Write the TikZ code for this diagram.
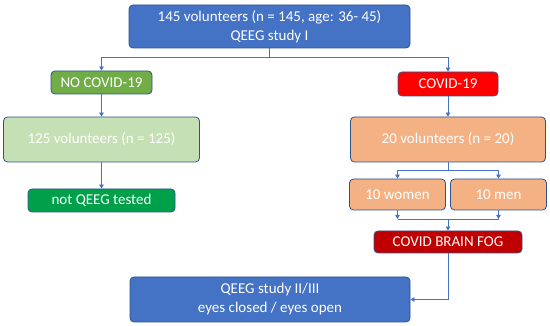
\documentclass[tikz,border=0pt]{standalone}
\usepackage{fontspec}
\setmainfont{Carlito}
\usetikzlibrary{arrows.meta}
\definecolor{qblue}{HTML}{4472C4}
\definecolor{qborder}{HTML}{2F528F}
\definecolor{qgreen}{HTML}{70AD47}
\definecolor{qlightgreen}{HTML}{C5E0B4}
\definecolor{qdarkgreen}{HTML}{00A04B}
\definecolor{qred}{HTML}{FF0000}
\definecolor{qdarkred}{HTML}{C00000}
\definecolor{qorange}{HTML}{F4B183}
\begin{document}
\begin{tikzpicture}[x=1pt,y=-1pt,
    box/.style={draw=qborder, line width=0.8pt, rounded corners=4pt, text=white,
        font=\fontsize{15}{19}\selectfont, align=center, inner sep=0pt},
    link/.style={draw=qblue, line width=0.8pt},
    arrow/.style={link, -{Triangle[length=4pt,width=4.5pt]}}]
    \useasboundingbox (0,0) rectangle (550,326);

    % Study I
    \node[box, fill=qblue, minimum width=281pt, minimum height=43pt] (study1) at (269.5,26.5)
        {145 volunteers (n = 145, age: 36- 45)\\QEEG study I};

    % Left branch
    \node[box, fill=qgreen, minimum width=101pt, minimum height=23pt] (nocovid) at (101.5,82.5) {NO COVID-19};
    \node[box, fill=qlightgreen, minimum width=196pt, minimum height=45pt] (vol125) at (101.5,139.5) {125 volunteers (n = 125)};
    \node[box, fill=qdarkgreen, minimum width=147pt, minimum height=23pt] (notqeeg) at (101.5,200.5) {not QEEG tested};

    % Right branch
    \node[box, fill=qred, minimum width=100pt, minimum height=24pt] (covid) at (448,84) {COVID-19};
    \node[box, fill=qorange, minimum width=195pt, minimum height=45pt] (vol20) at (448,139.5) {20 volunteers (n = 20)};
    \node[box, fill=qorange, minimum width=96pt, minimum height=31pt] (women) at (397.5,194.5) {10 women};
    \node[box, fill=qorange, minimum width=96pt, minimum height=31pt] (men) at (498.5,194.5) {10 men};
    \node[box, fill=qdarkred, minimum width=148pt, minimum height=22pt] (fog) at (448,242) {COVID BRAIN FOG};

    % Study II/III
    \node[box, fill=qblue, minimum width=280pt, minimum height=45pt] (study2) at (270,299.5)
        {QEEG study II/III\\eyes closed / eyes open};

    \coordinate (split1) at (269.5,57);
    \coordinate (split2) at (448,170);
    \coordinate (merge) at (448,219);

    % Connectors
    \draw[link] (study1.south) -- (split1);
    \draw[arrow] (split1) -| (nocovid.north);
    \draw[arrow] (split1) -| (covid.north);
    \draw[arrow] (nocovid) -- (vol125);
    \draw[arrow] (vol125) -- (notqeeg);
    \draw[arrow] (covid) -- (vol20);
    \draw[link] (vol20.south) -- (split2);
    \draw[arrow] (split2) -| (women.north);
    \draw[arrow] (split2) -| (men.north);
    \draw[arrow] (women.south) -- (women.south |- merge);
    \draw[arrow] (men.south) -- (men.south |- merge);
    \draw[link] (women.south |- merge) -- (men.south |- merge);
    \draw[arrow] (merge) -- (fog.north);
    \draw[arrow] (fog.south) |- (study2.east);
\end{tikzpicture}
\end{document}
